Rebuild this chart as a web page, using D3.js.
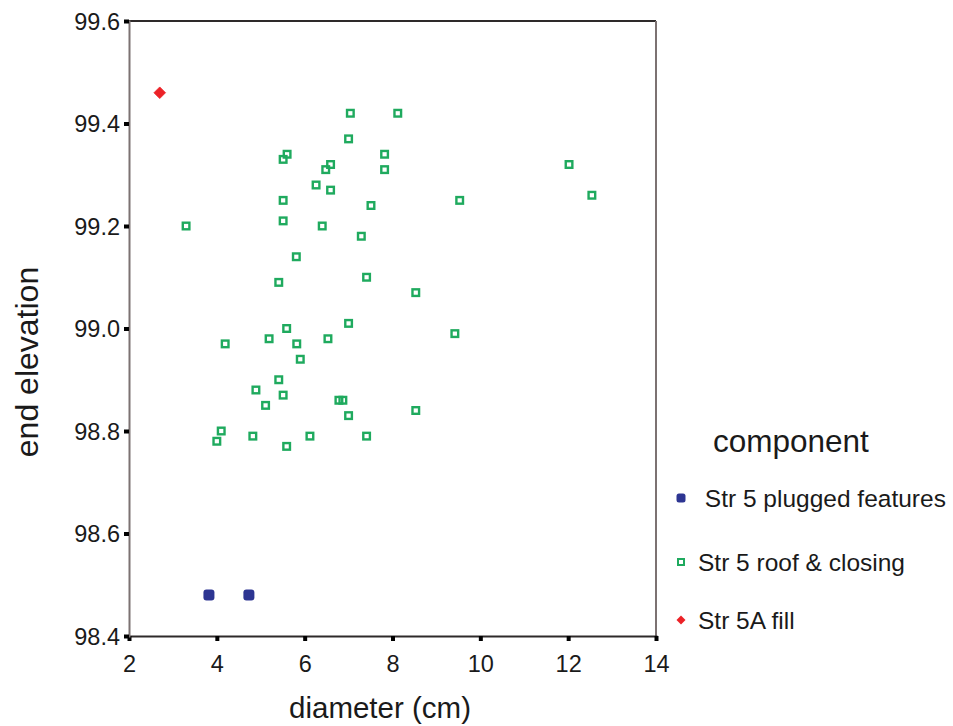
<!DOCTYPE html>
<html>
<head>
<meta charset="utf-8">
<script src="https://cdn.jsdelivr.net/npm/d3@7"></script>
<style>
  html, body { margin: 0; padding: 0; background: #fff; }
  svg { display: block; font-family: "Liberation Sans", Arial, sans-serif; }
</style>
</head>
<body>
<svg id="chart" width="953" height="726"></svg>
<script>
// Str 5 roof & closing
const roofDiameter = [7.04, 8.12, 7.0, 5.60, 5.51, 7.82, 6.59, 6.48, 7.82, 6.26,
  6.59, 5.51, 7.51, 3.30, 5.51, 6.40, 7.29, 5.81, 12.02, 12.54,
  9.53, 8.53, 9.42, 8.53, 5.41, 7.41, 7.0, 5.59, 4.19, 5.19,
  5.82, 6.53, 5.90, 5.41, 4.89, 5.51, 5.11, 6.78, 6.87, 7.0,
  4.10, 4.0, 4.82, 6.12, 7.41, 5.59];
const roofElevation = [99.42, 99.42, 99.37, 99.34, 99.33, 99.34, 99.32, 99.31, 99.31, 99.28,
  99.27, 99.25, 99.24, 99.20, 99.21, 99.20, 99.18, 99.14, 99.32, 99.26,
  99.25, 99.07, 98.99, 98.84, 99.09, 99.10, 99.01, 99.00, 98.97, 98.98,
  98.97, 98.98, 98.94, 98.90, 98.88, 98.87, 98.85, 98.86, 98.86, 98.83,
  98.80, 98.78, 98.79, 98.79, 98.79, 98.77];
// Str 5 plugged features
const plugDiameter = [3.82, 4.73];
const plugElevation = [98.48, 98.48];
// Str 5A fill
const fillDiameter = [2.70];
const fillElevation = [99.46];

const xTicks = [2, 4, 6, 8, 10, 12, 14];
const yTicks = [98.4, 98.6, 98.8, 99.0, 99.2, 99.4, 99.6];
const legendLabels = [" Str 5 plugged features", "Str 5 roof & closing", "Str 5A fill"];

const colors = { plug: "#2d3592", roof: "#1faa5e", fill: "#ec2227" };

const svg = d3.select("#chart");
const x = d3.scaleLinear().domain([2, 14]).range([129, 656]);
const y = d3.scaleLinear().domain([98.4, 99.6]).range([636, 21]);

// frame: top and right edges
svg.append("line").attr("x1", x(2)).attr("x2", x(14)).attr("y1", y(99.6)).attr("y2", y(99.6))
  .attr("stroke", "#2e2a2a").attr("stroke-width", 2);
svg.append("line").attr("x1", x(14)).attr("x2", x(14)).attr("y1", y(99.6)).attr("y2", y(98.4))
  .attr("stroke", "#7c7272").attr("stroke-width", 2);

// axes
const xAxis = svg.append("g").attr("transform", `translate(0,${y(98.4)})`)
  .call(d3.axisBottom(x).tickValues(xTicks).tickFormat(d3.format("d")).tickSize(5).tickPadding(14));
const yAxis = svg.append("g").attr("transform", `translate(${x(2)},0)`)
  .call(d3.axisLeft(y).tickValues(yTicks).tickFormat(d3.format(".1f")).tickSize(5).tickPadding(4));

xAxis.select(".domain").attr("stroke", "#2e2a2a").attr("stroke-width", 2);
yAxis.select(".domain").attr("stroke", "#7c7272").attr("stroke-width", 2);
[xAxis, yAxis].forEach(g => {
  g.selectAll(".tick line").attr("stroke", "#000").attr("stroke-width", 4);
  g.selectAll(".tick text").attr("fill", "#1a1a1a").style("font-size", "23.5px")
    .style("font-family", "'Liberation Sans', Arial, sans-serif");
});
yAxis.selectAll(".tick text").attr("dy", "0.36em");

// axis titles
svg.append("text").attr("x", 380).attr("y", 718).attr("text-anchor", "middle")
  .style("font-size", "29.5px").attr("fill", "#1a1a1a").text("diameter (cm)");
svg.append("text").attr("transform", "translate(38,362) rotate(-90)").attr("text-anchor", "middle")
  .style("font-size", "32px").attr("fill", "#1a1a1a").text("end elevation");

// marks
const diamondPath = "M0,-5.8L5.8,0L0,5.8L-5.8,0Z";

svg.append("g").selectAll("rect").data(d3.range(roofDiameter.length)).join("rect")
  .attr("x", i => x(roofDiameter[i]) - 3.3).attr("y", i => y(roofElevation[i]) - 3.3)
  .attr("width", 6.6).attr("height", 6.6)
  .attr("fill", "none").attr("stroke", colors.roof).attr("stroke-width", 2.4);

svg.append("g").selectAll("rect").data(d3.range(plugDiameter.length)).join("rect")
  .attr("x", i => x(plugDiameter[i]) - 5.5).attr("y", i => y(plugElevation[i]) - 5.5)
  .attr("width", 11).attr("height", 11).attr("rx", 3)
  .attr("fill", colors.plug);

svg.append("g").selectAll("path").data(d3.range(fillDiameter.length)).join("path")
  .attr("transform", i => `translate(${x(fillDiameter[i])},${y(fillElevation[i])})`)
  .attr("d", diamondPath).attr("fill", colors.fill)
  .attr("stroke", colors.fill).attr("stroke-width", 0.8).attr("stroke-linejoin", "round");

// legend
const legend = svg.append("g");
legend.append("text").attr("x", 713).attr("y", 452).style("font-size", "31.5px").attr("fill", "#1a1a1a")
  .text("component");
const legendY = [498, 562, 620];
legendLabels.forEach((label, i) => {
  const row = legend.append("g").attr("transform", `translate(681,${legendY[i]})`);
  if (i === 0) {
    row.append("rect").attr("x", -4.5).attr("y", -4.5).attr("width", 9).attr("height", 9).attr("rx", 2.5)
      .attr("fill", colors.plug);
  } else if (i === 1) {
    row.append("rect").attr("x", -3).attr("y", -3).attr("width", 6).attr("height", 6)
      .attr("fill", "none").attr("stroke", colors.roof).attr("stroke-width", 2);
  } else {
    row.append("path").attr("d", "M0,-4.5L4.5,0L0,4.5L-4.5,0Z").attr("fill", colors.fill);
  }
  row.append("text").attr("x", 17).attr("y", 0).attr("dy", "0.36em")
    .style("font-size", "24.5px").attr("fill", "#1a1a1a").style("white-space", "pre")
    .attr("xml:space", "preserve").text(label);
});
</script>
</body>
</html>
